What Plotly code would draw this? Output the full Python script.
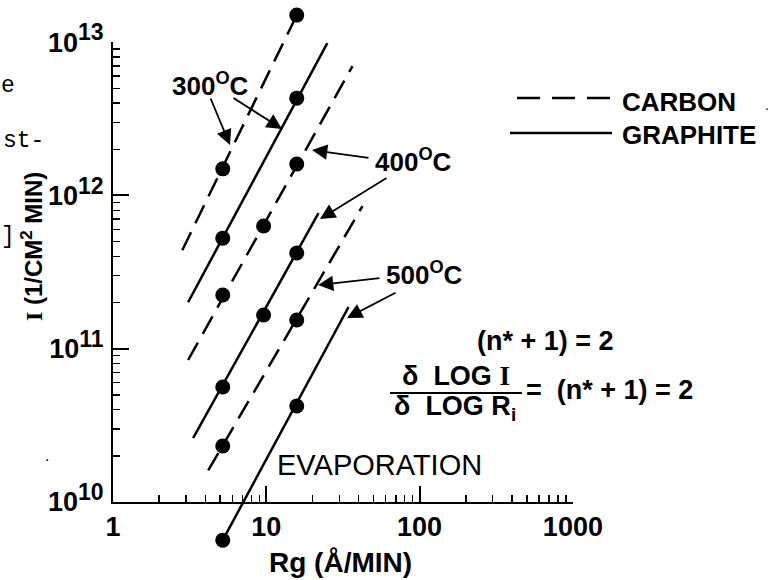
import plotly.graph_objects as go

# ---------------- data ----------------
# measured points: deposition rate Rg (A/MIN) vs nucleation rate I (1/CM^2 MIN)
carbon300_rg = [5.2, 15.8]
carbon300_I = [1.49e12, 1.50e13]
graphite300_rg = [5.2, 15.8]
graphite300_I = [5.26e11, 4.31e12]
carbon400_rg = [5.2, 9.6, 15.8]
carbon400_I = [2.24e11, 6.31e11, 1.60e12]
graphite400_rg = [5.2, 9.6, 15.8]
graphite400_I = [5.62e10, 1.66e11, 4.21e11]
carbon500_rg = [5.2, 15.8]
carbon500_I = [2.32e10, 1.54e11]
graphite500_rg = [5.2, 15.8]
graphite500_I = [5.64e9, 4.23e10]

# drawn fit lines (end points)
carbon300_line_rg = [2.83, 15.8]
carbon300_line_I = [4.39e11, 1.50e13]
graphite300_line_rg = [3.09, 25.0]
graphite300_line_I = [2.01e11, 9.85e12]
carbon400_line_rg = [3.09, 36.5]
carbon400_line_I = [8.44e10, 6.97e12]
graphite400_line_rg = [3.33, 21.9]
graphite400_line_I = [2.61e10, 7.67e11]
carbon500_line_rg = [4.18, 42.4]
carbon500_line_I = [1.61e10, 8.51e11]
graphite500_line_rg = [5.2, 34.4]
graphite500_line_I = [5.64e9, 1.87e11]

x_tick_vals = [1, 10, 100, 1000]
x_tick_text = ["1", "10", "100", "1000"]
y_tick_vals = [1e10, 1e11, 1e12, 1e13]
y_tick_exp = ["10", "11", "12", "13"]
minor_x = [m * d for d in (1, 10, 100) for m in range(2, 10)]
minor_y = [m * d for d in (1e10, 1e11, 1e12) for m in range(2, 10)]

# ---------------- geometry ----------------
W, H = 779, 580
X1_PX = 113.0      # pixel of Rg = 1
Y10_PX = 502.0     # pixel of I = 1e10
DEC = 153.3        # pixels per decade
xr = [(0 - X1_PX) / DEC, (W - X1_PX) / DEC]
yr = [10 - (H - Y10_PX) / DEC, 10 + Y10_PX / DEC]
xdom = [(0 - xr[0]) / (xr[1] - xr[0]), (3 - xr[0]) / (xr[1] - xr[0])]
ydom = [(10 - yr[0]) / (yr[1] - yr[0]), (13 - yr[0]) / (yr[1] - yr[0])]


def px(x):
    return x / W


def py(y):
    return 1 - y / H


FONT = "Liberation Sans"
SERIF_I = "<span style='font-family:Liberation Serif'>I</span>"
BLACK = "black"
DASH = "20px,10px"

fig = go.Figure()

lines = [
    (carbon300_line_rg, carbon300_line_I, True),
    (graphite300_line_rg, graphite300_line_I, False),
    (carbon400_line_rg, carbon400_line_I, True),
    (graphite400_line_rg, graphite400_line_I, False),
    (carbon500_line_rg, carbon500_line_I, True),
    (graphite500_line_rg, graphite500_line_I, False),
]
for xs, ys, dashed in lines:
    fig.add_trace(go.Scatter(
        x=xs, y=ys, mode="lines",
        line=dict(color=BLACK, width=2.5, dash=DASH if dashed else "solid"),
        showlegend=False, hoverinfo="skip", xaxis="x", yaxis="y"))

points = [
    (carbon300_rg, carbon300_I), (graphite300_rg, graphite300_I),
    (carbon400_rg, carbon400_I), (graphite400_rg, graphite400_I),
    (carbon500_rg, carbon500_I), (graphite500_rg, graphite500_I),
]
for xs, ys in points:
    fig.add_trace(go.Scatter(
        x=xs, y=ys, mode="markers", cliponaxis=False,
        marker=dict(color=BLACK, size=15),
        showlegend=False, xaxis="x", yaxis="y"))

# empty trace so the visible axis pair exists
fig.add_trace(go.Scatter(x=[], y=[], xaxis="x2", yaxis="y2", showlegend=False))

fig.update_layout(
    template="none",
    width=W, height=H,
    margin=dict(l=0, r=0, t=0, b=0, pad=0, autoexpand=False),
    paper_bgcolor="white", plot_bgcolor="rgba(0,0,0,0)",
    showlegend=False,
    xaxis=dict(type="log", range=xr, domain=[0, 1], visible=False, anchor="y",
               automargin=False),
    yaxis=dict(type="log", range=yr, domain=[0, 1], visible=False, anchor="x",
               automargin=False),
    xaxis2=dict(type="log", range=[0, 3], domain=xdom, anchor="y2",
                automargin=False,
                showline=True, linecolor=BLACK, linewidth=2,
                ticks="inside", ticklen=16, tickwidth=2, tickcolor=BLACK,
                tickmode="array", tickvals=x_tick_vals,
                ticktext=["<b>%s</b>" % t for t in x_tick_text],
                tickfont=dict(family=FONT, size=27, color=BLACK),
                showgrid=False, zeroline=False,
                minor=dict(ticks="inside", ticklen=7, tickwidth=1.5,
                           tickcolor=BLACK, tickmode="array",
                           tickvals=minor_x, showgrid=False)),
    yaxis2=dict(type="log", range=[10, 13], domain=ydom, anchor="x2",
                automargin=False,
                showline=True, linecolor=BLACK, linewidth=2,
                ticks="inside", ticklen=16, tickwidth=2, tickcolor=BLACK,
                tickmode="array", tickvals=y_tick_vals,
                ticktext=["<b>10<sup><span style='font-size:23px'>%s</span></sup></b>" % e
                          for e in y_tick_exp],
                ticklabelstandoff=2,
                tickfont=dict(family=FONT, size=27, color=BLACK),
                showgrid=False, zeroline=False,
                minor=dict(ticks="inside", ticklen=7, tickwidth=1.5,
                           tickcolor=BLACK, tickmode="array",
                           tickvals=minor_y, showgrid=False)),
)

ann = []


def text(t, x, y, size=26, xanchor="center", family=FONT, angle=0):
    ann.append(dict(text=t, x=px(x), y=py(y), xref="paper", yref="paper",
                    xanchor=xanchor, yanchor="middle", showarrow=False,
                    textangle=angle,
                    font=dict(family=family, size=size, color=BLACK)))


def arrow(tail, head):
    ann.append(dict(text="", x=px(head[0]), y=py(head[1]), xref="paper",
                    yref="paper", ax=tail[0] - head[0], ay=tail[1] - head[1],
                    showarrow=True, arrowhead=2, arrowsize=1.7,
                    arrowwidth=1.8, arrowcolor=BLACK))


# labels
text("<b>300<sup>O</sup>C</b>", 210, 84)
text("<b>400<sup>O</sup>C</b>", 414, 160)
text("<b>500<sup>O</sup>C</b>", 424, 274)
arrow((210, 97), (230, 145))
arrow((232, 97), (282, 129))
arrow((370, 158), (312, 150))
arrow((388, 177), (320, 219))
arrow((381, 278), (318, 285))
arrow((397, 292), (347, 318))

# legend
text("<b>CARBON</b>", 620, 102, size=26, xanchor="left")
text("<b>GRAPHITE</b>", 620, 135, size=26, xanchor="left")
shapes = [
    dict(type="line", xref="paper", yref="paper", x0=px(517), x1=px(612),
         y0=py(98), y1=py(98), line=dict(color=BLACK, width=2.5, dash="23px,12px")),
    dict(type="line", xref="paper", yref="paper", x0=px(510), x1=px(612),
         y0=py(133), y1=py(133), line=dict(color=BLACK, width=2.5)),
    dict(type="line", xref="paper", yref="paper", x0=px(390), x1=px(522),
         y0=py(393), y1=py(393), line=dict(color=BLACK, width=2)),
]

# equations
text("<b>(n* + 1) = 2</b>", 545, 341, size=27)
text("<b>δ&nbsp; LOG " + SERIF_I + "</b>", 456, 376, size=27)
text("<b>δ&nbsp; LOG R<sub>i</sub></b>", 455, 408, size=27)
text("<b>=&nbsp; (n* + 1) = 2</b>", 524, 390, size=27, xanchor="left")

text("EVAPORATION", 379, 465, size=29)

# axis titles
text("<b>" + SERIF_I + " (1/CM<sup>2</sup> MIN)</b>", 32, 247, size=24, angle=-90)
text("<b>Rg (Å/MIN)</b>", 340, 562, size=28)

# cut-off page text at left edge and stray specks
text("e", 17, 86, size=23, xanchor="right", family="Liberation Mono")
text("st-", 46, 141, size=23, xanchor="right", family="Liberation Mono")
text("]", 17, 237, size=23, xanchor="right", family="Liberation Mono")
text(".", 47, 455, size=16)
text(".", 767, 105, size=14)

fig.update_layout(annotations=ann, shapes=shapes)
fig.write_html("out.html", post_script="document.body.style.margin='0';",
               config={"displayModeBar": False, "staticPlot": True})
